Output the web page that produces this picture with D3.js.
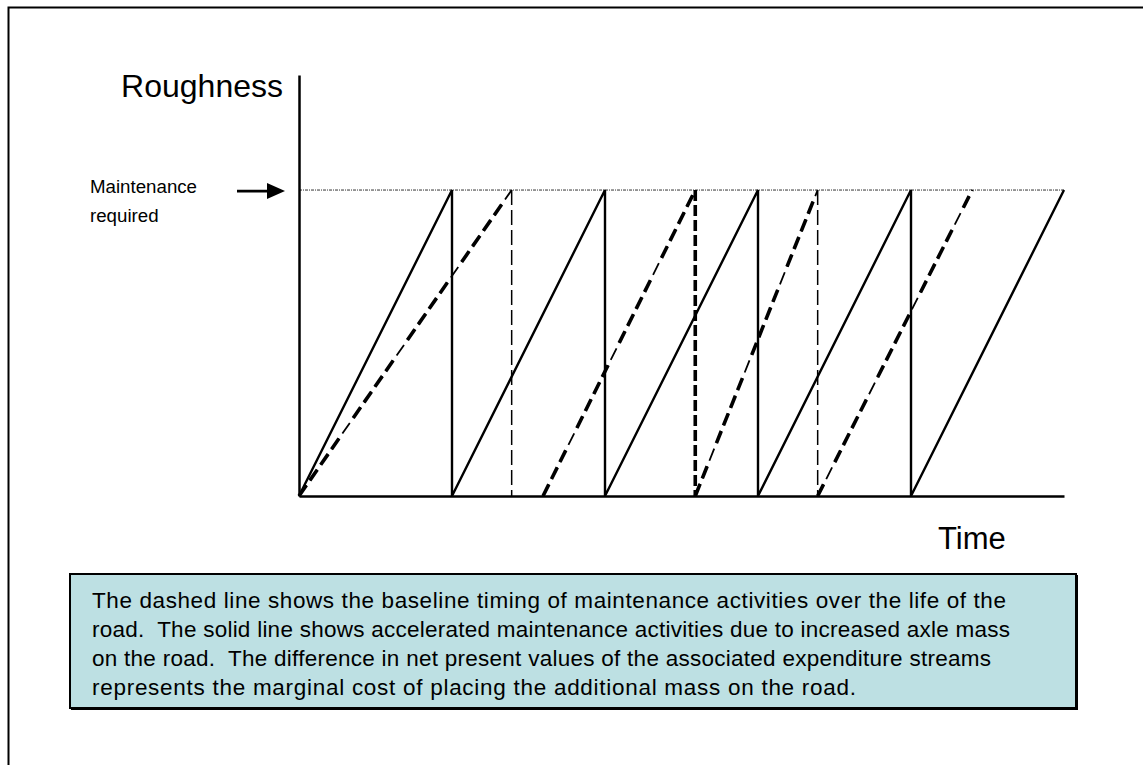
<!DOCTYPE html>
<html>
<head>
<meta charset="utf-8">
<script src="https://cdn.jsdelivr.net/npm/d3@7"></script>
<style>
  html, body { margin: 0; padding: 0; background: #fff; }
  svg { display: block; font-family: Arial, "Liberation Sans", sans-serif; }
</style>
</head>
<body>
<svg id="chart" width="1143" height="765"></svg>
<script>
// ---- Data (time in solid-cycle units, roughness relative to intervention level) ----
const timeDomain = [0, 5];
const roughnessDomain = [0, 1.376];
const interventionLevel = 1;

// Solid line: accelerated maintenance (increased axle mass)
const solidTime      = [0, 1, 1, 2, 2, 3, 3, 4, 4, 5];
const solidRoughness = [0, 1, 0, 1, 0, 1, 0, 1, 0, 1];

// Dashed line: baseline maintenance ramps (start time, end time)
const dashedRampStart = [0, 1.595, 2.59, 3.39];
const dashedRampEnd   = [1.39, 2.59, 3.39, 4.40];
// Dashed vertical drops (maintenance events) and whether drawn heavy
const dashedDropTime  = [1.39, 2.59, 3.39];
const dashedDropHeavy = [false, true, false];

const yLabel = "Roughness";
const xLabel = "Time";
const levelLabel = ["Maintenance", "required"];
const noteLines = [
  "The dashed line shows the baseline timing of maintenance activities over the life of the",
  "road.  The solid line shows accelerated maintenance activities due to increased axle mass",
  "on the road.  The difference in net present values of the associated expenditure streams",
  "represents the marginal cost of placing the additional mass on the road."
];

// ---- Layout ----
const svg = d3.select("#chart");
const x = d3.scaleLinear().domain(timeDomain).range([299, 1064]);
const y = d3.scaleLinear().domain(roughnessDomain).range([496, 75]);

// Outer frame
svg.append("path")
  .attr("d", "M8.5,800 V7.5 H1200")
  .attr("fill", "none").attr("stroke", "#000").attr("stroke-width", 2);

// Intervention (maintenance required) level line
svg.append("line")
  .attr("x1", x(timeDomain[0])).attr("x2", x(timeDomain[1]))
  .attr("y1", y(interventionLevel)).attr("y2", y(interventionLevel))
  .attr("stroke", "#333").attr("stroke-width", 1)
  .attr("stroke-dasharray", "3,1,1,1");

// Axes (no ticks)
const gx = svg.append("g").attr("transform", `translate(0,${y(0)})`)
  .call(d3.axisBottom(x).tickValues([]).tickSizeOuter(0));
const gy = svg.append("g").attr("transform", `translate(${x(0)},0)`)
  .call(d3.axisLeft(y).tickValues([]).tickSizeOuter(0));
[gx, gy].forEach(g => g.select(".domain").attr("stroke", "#000").attr("stroke-width", 2.5));

// Solid line
const solidData = solidTime.map((t, i) => [t, solidRoughness[i]]);
const line = d3.line().x(d => x(d[0])).y(d => y(d[1]));
svg.append("path")
  .datum(solidData)
  .attr("d", line)
  .attr("fill", "none").attr("stroke", "#000").attr("stroke-width", 2.4)
  .attr("stroke-linejoin", "miter");

// Dashed ramps: thin dashes with most dashes heavy
const ramps = dashedRampStart.map((s, i) => [[s, 0], [dashedRampEnd[i], interventionLevel]]);
const rampG = svg.append("g");
rampG.selectAll("path.thin").data(ramps).join("path")
  .attr("class", "thin")
  .attr("d", line)
  .attr("fill", "none").attr("stroke", "#000").attr("stroke-width", 1.8)
  .attr("stroke-dasharray", "13,6");
rampG.selectAll("path.heavy").data(ramps).join("path")
  .attr("class", "heavy")
  .attr("d", line)
  .attr("fill", "none").attr("stroke", "#000").attr("stroke-width", 3.6)
  .attr("stroke-dasharray", "13,6,13,6,13,6,13,25")
  .attr("stroke-dashoffset", (d, i) => i * 19);

// Dashed drops
svg.append("g").selectAll("line").data(dashedDropTime).join("line")
  .attr("x1", d => x(d)).attr("x2", d => x(d))
  .attr("y1", y(interventionLevel)).attr("y2", y(0))
  .attr("stroke", "#000")
  .attr("stroke-width", (d, i) => dashedDropHeavy[i] ? 3.6 : 1.5)
  .attr("stroke-dasharray", (d, i) => dashedDropHeavy[i] ? "11,4" : "15,5");

// Axis labels
svg.append("text").attr("x", 283).attr("y", 97).attr("text-anchor", "end")
  .attr("font-size", 32).attr("fill", "#000").text(yLabel);
svg.append("text").attr("x", 938).attr("y", 549)
  .attr("font-size", 31).attr("fill", "#000").text(xLabel);

// Maintenance required label + arrow
svg.append("g").selectAll("text").data(levelLabel).join("text")
  .attr("x", 90).attr("y", (d, i) => 193 + i * 29)
  .attr("font-size", 18.7).attr("fill", "#000").text(d => d);
const ay = y(interventionLevel) + 1;
svg.append("line").attr("x1", 237).attr("x2", 270).attr("y1", ay).attr("y2", ay)
  .attr("stroke", "#000").attr("stroke-width", 2.8);
svg.append("path")
  .attr("d", `M267,${ay - 8} L285,${ay} L267,${ay + 8} Z`)
  .attr("fill", "#000");

// Note box
svg.append("rect").attr("x", 71).attr("y", 575).attr("width", 1007).attr("height", 135)
  .attr("fill", "#000");
svg.append("rect").attr("x", 70).attr("y", 574).attr("width", 1006).attr("height", 134)
  .attr("fill", "#bde0e3").attr("stroke", "#000").attr("stroke-width", 2);

// widths of each note line as laid out in the reference
const noteWidths = [914, 918, 899, 764];
svg.append("g").selectAll("text").data(noteLines).join("text")
  .attr("x", 92).attr("y", (d, i) => 608 + i * 29)
  .attr("font-size", 22.5).attr("fill", "#000")
  .attr("xml:space", "preserve")
  .attr("textLength", (d, i) => noteWidths[i])
  .attr("lengthAdjust", "spacing")
  .text(d => d);
</script>
</body>
</html>
